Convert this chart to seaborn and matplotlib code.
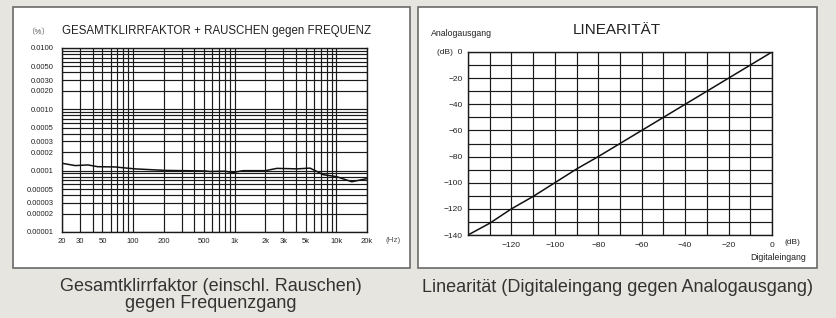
import numpy as np
import pandas as pd
import matplotlib.pyplot as plt
from matplotlib.patches import Rectangle
import seaborn as sns

# Data
freq_hz = [20, 27, 36, 45, 66, 104, 206, 510, 570, 803, 957, 1200, 2000,
           2600, 4100, 5500, 6200, 7400, 10000, 14200, 19000, 20000]
thdn_pct = [1.32e-4, 1.21e-4, 1.24e-4, 1.16e-4, 1.15e-4, 1.07e-4, 1.01e-4,
            0.99e-4, 0.97e-4, 0.98e-4, 0.93e-4, 1.0e-4, 1.0e-4, 1.09e-4,
            1.07e-4, 1.1e-4, 1.0e-4, 0.86e-4, 0.80e-4, 0.66e-4, 0.73e-4, 0.74e-4]

x_ticks = [20, 30, 50, 100, 200, 500, 1000, 2000, 3000, 5000, 10000, 20000]
x_labels = ["20", "30", "50", "100", "200", "500", "1k", "2k", "3k", "5k", "10k", "20k"]
y_ticks = [0.01, 0.005, 0.003, 0.002, 0.001, 0.0005, 0.0003, 0.0002, 0.0001,
           0.00005, 0.00003, 0.00002, 0.00001]
y_labels = ["0.0100", "0.0050", "0.0030", "0.0020", "0.0010", "0.0005", "0.0003",
            "0.0002", "0.0001", "0.00005", "0.00003", "0.00002", "0.00001"]

digital_in = [-140, -130, -120, -110, -100, -90, -80, -70, -60, -50, -40, -30, -20, -10, 0]
analog_out = [-140, -131, -120, -110.5, -100, -89.5, -80, -70, -60, -50, -40, -30, -20, -10, 0]
lin_x_ticks = [-120, -100, -80, -60, -40, -20, 0]
lin_y_ticks = [0, -20, -40, -60, -80, -100, -120, -140]
lin_y_labels = ["(dB)  0", "\u221220", "\u221240", "\u221260", "\u221280",
                "\u2212100", "\u2212120", "\u2212140"]

sns.set_theme(style="white")
plt.rcParams['font.family'] = ['Liberation Sans', 'Noto Sans CJK JP', 'DejaVu Sans']

BG = "#e6e5df"
fig = plt.figure(figsize=(8.37, 3.18), dpi=100, facecolor=BG)

W, H = 837, 318


def px(x0, y0, x1, y1):
    return [x0 / W, 1 - y1 / H, (x1 - x0) / W, (y1 - y0) / H]


# white panels
for x0, x1 in [(13, 410), (418, 817)]:
    fig.add_artist(Rectangle((x0 / W, 1 - 268 / H), (x1 - x0) / W, 261 / H,
                             transform=fig.transFigure, facecolor="white",
                             edgecolor="#6a6a6a", linewidth=1.2, zorder=0))

grid_col = "#1a1a1a"
txt_col = "#222222"

# -------------------------
# THD+N vs frequency
# -------------------------
ax1 = fig.add_axes(px(62, 48, 367, 232))
df1 = pd.DataFrame({"f": freq_hz, "thd": thdn_pct})
sns.lineplot(data=df1, x="f", y="thd", ax=ax1, color="#111111", linewidth=1.1)
ax1.set_xscale("log")
ax1.set_yscale("log")
ax1.set_xlim(20, 20000)
ax1.set_ylim(1e-5, 1e-2)
ax1.set_xticks(x_ticks)
ax1.set_xticklabels(x_labels)
ax1.set_yticks(y_ticks)
ax1.set_yticklabels(y_labels)
ax1.minorticks_on()
ax1.grid(True, which="both", color=grid_col, linewidth=0.85)
ax1.tick_params(which="both", length=0, labelsize=5.5, colors=txt_col)
ax1.tick_params(axis="y", pad=6)
ax1.tick_params(axis="x", pad=4)
ax1.set_xlabel("")
ax1.set_ylabel("")
for s in ax1.spines.values():
    s.set_color(grid_col)
    s.set_linewidth(1.0)

fig.text(39 / W, 1 - 33 / H, "\u3014%\u3015", fontsize=5.5, color="#555555", ha="center", va="center")
fig.text(62 / W, 1 - 31 / H, "GESAMTKLIRRFAKTOR + RAUSCHEN gegen FREQUENZ",
         fontsize=8.3, color=txt_col, ha="left", va="center")
fig.text(393 / W, 1 - 240 / H, "(Hz)", fontsize=5.8, color="#555555", ha="center", va="center")
fig.text(211 / W, 1 - 295 / H, "Gesamtklirrfaktor (einschl. Rauschen)\ngegen Frequenzgang",
         fontsize=13, color="#333333", ha="center", va="center", linespacing=1.05)

# -------------------------
# Linearity
# -------------------------
ax2 = fig.add_axes(px(468, 52, 772, 235))
df2 = pd.DataFrame({"din": digital_in, "aout": analog_out})
sns.lineplot(data=df2, x="din", y="aout", ax=ax2, color="#111111", linewidth=1.1)
ax2.set_xlim(-140, 0)
ax2.set_ylim(-140, 0)
ax2.set_xticks(np.arange(-140, 1, 10), minor=True)
ax2.set_yticks(np.arange(-140, 1, 10), minor=True)
ax2.set_xticks(lin_x_ticks)
ax2.set_yticks(lin_y_ticks)
ax2.set_yticklabels(lin_y_labels)
ax2.grid(True, which="both", color=grid_col, linewidth=0.85)
ax2.tick_params(which="both", length=0, labelsize=6, colors=txt_col)
ax2.tick_params(axis="y", pad=4)
ax2.tick_params(axis="x", pad=5)
ax2.set_xlabel("")
ax2.set_ylabel("")
for s in ax2.spines.values():
    s.set_color(grid_col)
    s.set_linewidth(1.0)

fig.text(617 / W, 1 - 30 / H, "LINEARITÄT", fontsize=11, color=txt_col, ha="center", va="center")
fig.text(431 / W, 1 - 34 / H, "Analogausgang", fontsize=6.3, color=txt_col, ha="left", va="center")
fig.text(792 / W, 1 - 243 / H, "(dB)", fontsize=6, color=txt_col, ha="center", va="center")
fig.text(806 / W, 1 - 257 / H, "Digitaleingang", fontsize=6.3, color=txt_col, ha="right", va="center")
fig.text(617 / W, 1 - 287 / H, "Linearität (Digitaleingang gegen Analogausgang)",
         fontsize=13, color="#333333", ha="center", va="center")

fig.savefig("out.png", dpi=100, facecolor=BG)
